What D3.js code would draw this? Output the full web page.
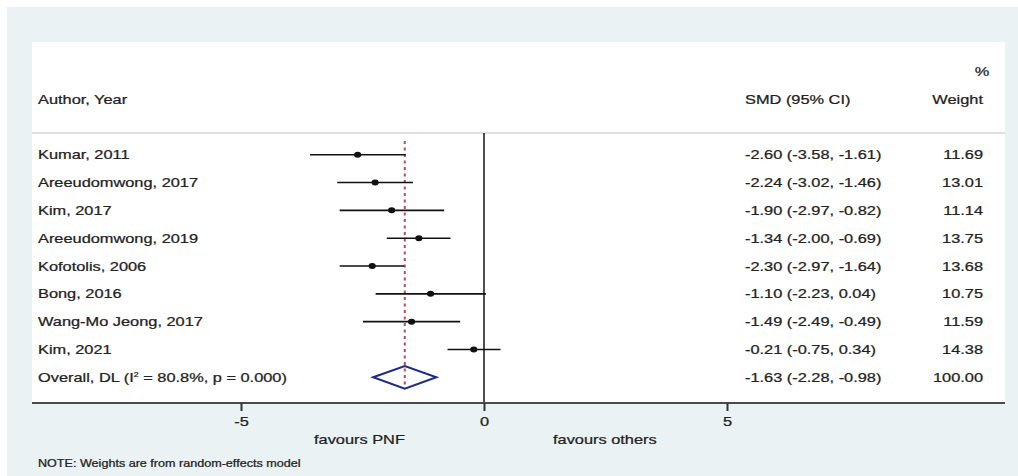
<!DOCTYPE html>
<html>
<head>
<meta charset="utf-8">
<script src="https://cdn.jsdelivr.net/npm/d3@7"></script>
<style>
  html, body { margin: 0; padding: 0; background: #ffffff; }
  svg { display: block; }
  text { font-family: "Liberation Sans", Arial, sans-serif; fill: #222; stroke: #222; stroke-width: 0.25px; }
</style>
</head>
<body>
<script>
// Study-level standardized mean differences with 95% CIs and random-effects weights
const studies = ["Kumar, 2011", "Areeudomwong, 2017", "Kim, 2017", "Areeudomwong, 2019",
                 "Kofotolis, 2006", "Bong, 2016", "Wang-Mo Jeong, 2017", "Kim, 2021"];
const smd     = [-2.60, -2.24, -1.90, -1.34, -2.30, -1.10, -1.49, -0.21];
const lower   = [-3.58, -3.02, -2.97, -2.00, -2.97, -2.23, -2.49, -0.75];
const upper   = [-1.61, -1.46, -0.82, -0.69, -1.64, 0.04, -0.49, 0.34];
const weights = ["11.69", "13.01", "11.14", "13.75", "13.68", "10.75", "11.59", "14.38"];

// Pooled estimate (DerSimonian-Laird)
const overall = { est: -1.63, lo: -2.28, hi: -0.98, weight: "100.00", i2: "80.8%", p: "0.000" };

const xTicks = [-5, 0, 5];
const leftLabel = "favours PNF";
const rightLabel = "favours others";
const note = "NOTE: Weights are from random-effects model";

const W = 1018, H = 476;
const SX = 1.26;          // horizontal text stretch of the rendered output
const locale = d3.formatLocale({ decimal: ".", thousands: ",", grouping: [3], currency: ["", ""], minus: "-" });
const fmt = locale.format(".2f");
const fmtTick = locale.format("d");

const svg = d3.select("body").append("svg").attr("width", W).attr("height", H);

// Graph region and plot region
svg.append("rect").attr("x", 7).attr("y", 7).attr("width", W - 7).attr("height", H - 7).attr("fill", "#eaf2f3");
const plotL = 32, plotR = 1005, plotT = 42, axisY = 403;
svg.append("rect").attr("x", plotL).attr("y", plotT).attr("width", plotR - plotL).attr("height", axisY - plotT).attr("fill", "#ffffff");

const x = d3.scaleLinear().domain([-5, 5]).range([241, 727]);
const rowKeys = studies.concat(["__overall"]);
const y = d3.scalePoint().domain(rowKeys).range([154.7, 377.3]);

function label(g, txt, px, py, anchor, size) {
  return g.append("text")
    .attr("transform", `translate(${px},${py}) scale(${SX},1)`)
    .attr("text-anchor", anchor || "start")
    .attr("dy", "0.35em")
    .style("font-size", (size || 13) + "px")
    .text(txt);
}

// Header
label(svg, "Author, Year", 38, 99);
label(svg, "SMD (95% CI)", 745, 99);
label(svg, "%", 982, 71, "middle");
label(svg, "Weight", 983, 99, "end");
svg.append("line").attr("x1", plotL).attr("x2", plotR).attr("y1", 133).attr("y2", 133)
  .attr("stroke", "#d4d4d4").attr("stroke-width", 1.5);

// Null line
svg.append("line").attr("x1", x(0)).attr("x2", x(0)).attr("y1", 133).attr("y2", axisY)
  .attr("stroke", "#222").attr("stroke-width", 1.6);

// Pooled-estimate reference line
svg.append("line").attr("x1", x(overall.est)).attr("x2", x(overall.est))
  .attr("y1", 141).attr("y2", y("__overall") + 11)
  .attr("stroke", "#b4505a").attr("stroke-width", 2).attr("stroke-dasharray", "3,3.5");

// Study rows
const rows = svg.append("g");
studies.forEach((s, i) => {
  const yy = y(s);
  rows.append("line").attr("x1", x(lower[i])).attr("x2", x(upper[i])).attr("y1", yy).attr("y2", yy)
    .attr("stroke", "#111").attr("stroke-width", 1.6);
  rows.append("ellipse").attr("cx", x(smd[i])).attr("cy", yy).attr("rx", 3.6).attr("ry", 3)
    .attr("fill", "#111");
  label(rows, s, 38, yy);
  label(rows, `${fmt(smd[i])} (${fmt(lower[i])}, ${fmt(upper[i])})`, 745, yy);
  label(rows, weights[i], 983, yy, "end");
});

// Overall row
const oy = y("__overall");
const ot = rows.append("text")
  .attr("transform", `translate(38,${oy}) scale(${SX},1)`)
  .attr("dy", "0.35em").style("font-size", "13px");
ot.append("tspan").text("Overall, DL (I");
ot.append("tspan").attr("dy", -5).style("font-size", "7px").text("2");
ot.append("tspan").attr("dy", 5).text(` = ${overall.i2}, p = ${overall.p})`);
const dh = 11.3;
rows.append("path")
  .attr("d", `M${x(overall.lo)},${oy} L${x(overall.est)},${oy - dh} L${x(overall.hi)},${oy} L${x(overall.est)},${oy + dh} Z`)
  .attr("fill", "none").attr("stroke", "#1c2a8c").attr("stroke-width", 2);
label(rows, `${fmt(overall.est)} (${fmt(overall.lo)}, ${fmt(overall.hi)})`, 745, oy);
label(rows, overall.weight, 983, oy, "end");

// X axis
svg.append("line").attr("x1", plotL).attr("x2", plotR).attr("y1", axisY).attr("y2", axisY)
  .attr("stroke", "#4a4a4a").attr("stroke-width", 2);
const axis = svg.append("g").attr("transform", `translate(0,${axisY})`)
  .call(d3.axisBottom(x).tickValues(xTicks).tickSize(8).tickPadding(6).tickFormat(fmtTick));
axis.select(".domain").remove();
axis.selectAll(".tick line").attr("stroke", "#333").attr("stroke-width", 2);
axis.selectAll(".tick text")
  .attr("transform", `scale(${SX},1)`)
  .style("font-size", "13px").style("font-family", "'Liberation Sans', Arial, sans-serif")
  .attr("fill", "#222").attr("stroke", "#222").attr("stroke-width", 0.25);

label(svg, leftLabel, 314, 439);
label(svg, rightLabel, 553, 439);
label(svg, note, 38, 463, "start", 10);
</script>
</body>
</html>
